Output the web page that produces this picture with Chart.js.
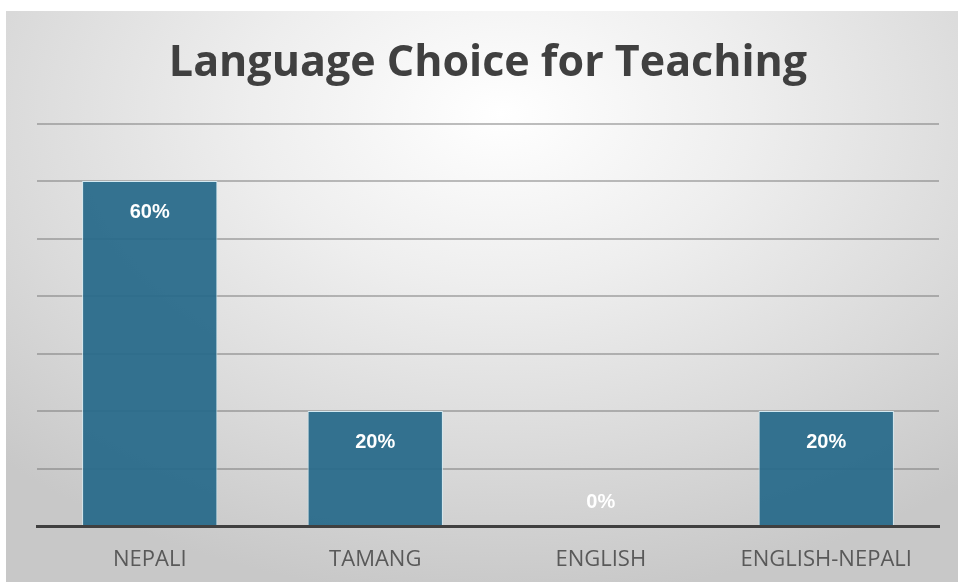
<!DOCTYPE html>
<html>
<head>
<meta charset="utf-8">
<script src="https://cdn.jsdelivr.net/npm/chart.js@4"></script>
<style>
  html, body { margin: 0; padding: 0; background: #ffffff; }
  #panel {
    position: absolute;
    left: 6px; top: 11px;
    width: 952px; height: 571px;
    background: radial-gradient(ellipse 75% 85% at 52% 18%, #ffffff 0%, #eeeeee 35%, #dadada 70%, #c8c8c8 100%);
  }
  #chart { display: block; }
</style>
</head>
<body>
<div id="panel">
  <canvas id="chart" width="952" height="571"></canvas>
</div>
<script>
// Survey answers
var categories = ['NEPALI', 'TAMANG', 'ENGLISH', 'ENGLISH-NEPALI'];
var percentages = [60, 20, 0, 20];
var yTicks = [0, 10, 20, 30, 40, 50, 60, 70];

// White percentage labels near the top of each bar
var barLabels = {
    id: 'barLabels',
    afterDatasetsDraw: function(chart) {
        var ctx = chart.ctx;
        var meta = chart.getDatasetMeta(0);
        ctx.save();
        ctx.font = 'bold 20px "Liberation Sans", Arial, sans-serif';
        ctx.fillStyle = '#ffffff';
        ctx.textAlign = 'center';
        ctx.textBaseline = 'middle';
        meta.data.forEach(function(bar, i) {
            var y = Math.min(bar.y + 31, bar.base - 24);
            ctx.fillText(percentages[i] + '%', bar.x, y);
        });
        ctx.restore();
    }
};

var ctx = document.getElementById('chart').getContext('2d');
var chart = new Chart(ctx, {
    type: 'bar',
    data: {
        labels: categories,
        datasets: [{
            data: percentages,
            backgroundColor: 'rgba(40, 106, 138, 0.94)',
            borderColor: '#d3e9f1',
            borderWidth: 1,
            barPercentage: 0.6,
            categoryPercentage: 1
        }]
    },
    options: {
        responsive: false,
        animation: false,
        layout: {
            padding: { left: 31, right: 19, top: 0, bottom: 0 }
        },
        plugins: {
            legend: { display: false },
            tooltip: { enabled: false },
            title: {
                display: true,
                text: 'Language Choice for Teaching',
                color: '#404040',
                font: { family: 'Open Sans', size: 43, weight: 'bold', lineHeight: 1.2 },
                padding: { top: 27, bottom: 34 }
            }
        },
        scales: {
            x: {
                grid: { display: false, drawTicks: false },
                border: { display: true, color: '#404040', width: 3 },
                ticks: {
                    color: '#595959',
                    padding: 21,
                    font: { family: 'Open Sans', size: 22, lineHeight: 1.2 }
                },
                // fixed band under the axis for the category names
                afterFit: function(scale) {
                    scale.height = 56;
                }
            },
            y: {
                min: 0,
                max: 70,
                afterBuildTicks: function(scale) {
                    scale.ticks = yTicks.map(function(v) { return { value: v }; });
                },
                grid: { color: 'rgba(110, 110, 110, 0.45)', lineWidth: 2, drawTicks: false },
                border: { display: false },
                ticks: { display: false }
            }
        }
    },
    plugins: [barLabels]
});
</script>
</body>
</html>
